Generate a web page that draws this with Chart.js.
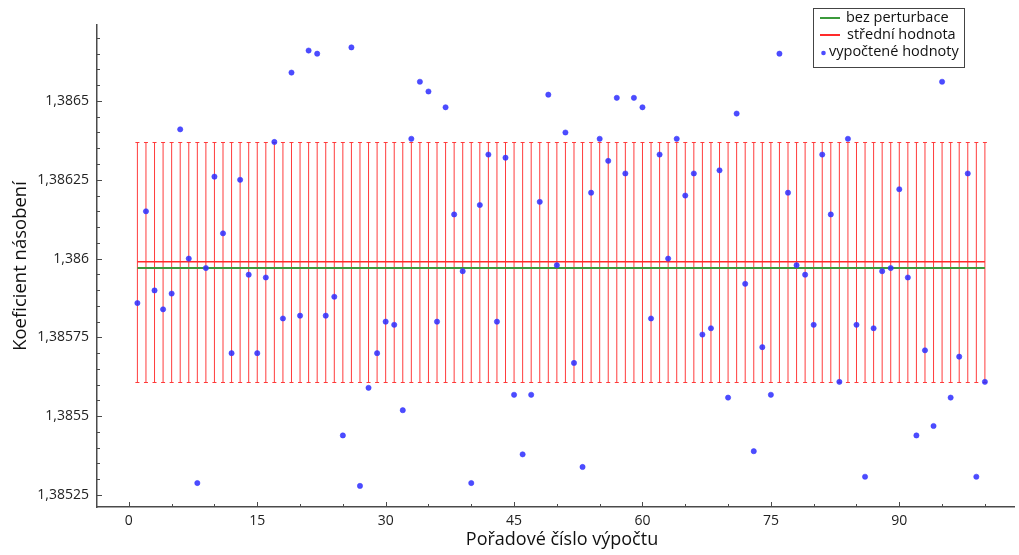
<!DOCTYPE html>
<html lang="cs">
<head>
<meta charset="UTF-8">
<title>Koeficient násobení</title>
<script src="https://cdn.jsdelivr.net/npm/chart.js"></script>
<style>
  html, body { margin: 0; padding: 0; background: #fff; }
  #wrap { width: 1019px; height: 555px; }
</style>
</head>
<body>
<div id="wrap"><canvas id="chart"></canvas></div>
<script>
// sequence number of each run
const runs = [
  1, 2, 3, 4, 5, 6, 7, 8, 9, 10, 11, 12, 13, 14, 15, 16, 17, 18, 19, 20,
  21, 22, 23, 24, 25, 26, 27, 28, 29, 30, 31, 32, 33, 34, 35, 36, 37, 38, 39, 40,
  41, 42, 43, 44, 45, 46, 47, 48, 49, 50, 51, 52, 53, 54, 55, 56, 57, 58, 59, 60,
  61, 62, 63, 64, 65, 66, 67, 68, 69, 70, 71, 72, 73, 74, 75, 76, 77, 78, 79, 80,
  81, 82, 83, 84, 85, 86, 87, 88, 89, 90, 91, 92, 93, 94, 95, 96, 97, 98, 99, 100
];
// computed multiplication factor per run
const computed = [
  1.385859, 1.386150, 1.385899, 1.385839, 1.385889, 1.386410, 1.386000, 1.385288, 1.385970, 1.386260,
  1.386080, 1.385700, 1.386250, 1.385949, 1.385700, 1.385940, 1.386370, 1.385810, 1.386590, 1.385819,
  1.386660, 1.386650, 1.385819, 1.385879, 1.385439, 1.386670, 1.385279, 1.385590, 1.385700, 1.385800,
  1.385790, 1.385519, 1.386380, 1.386561, 1.386530, 1.385800, 1.386480, 1.386140, 1.385960, 1.385288,
  1.386170, 1.386330, 1.385800, 1.386320, 1.385568, 1.385379, 1.385568, 1.386180, 1.386520, 1.385979,
  1.386400, 1.385669, 1.385339, 1.386209, 1.386380, 1.386310, 1.386510, 1.386270, 1.386510, 1.386480,
  1.385810, 1.386330, 1.386000, 1.386380, 1.386200, 1.386270, 1.385759, 1.385779, 1.386280, 1.385559,
  1.386460, 1.385920, 1.385389, 1.385719, 1.385568, 1.386650, 1.386209, 1.385979, 1.385949, 1.385790,
  1.386330, 1.386140, 1.385609, 1.386380, 1.385790, 1.385308, 1.385779, 1.385960, 1.385970, 1.386220,
  1.385940, 1.385439, 1.385709, 1.385469, 1.386561, 1.385559, 1.385689, 1.386270, 1.385308, 1.385609
];
const unperturbed = 1.38597;   // bez perturbace
const meanValue = 1.38599;     // střední hodnota
const spread = 0.000381;       // half height of the error bars

const xTicks = [0, 15, 30, 45, 60, 75, 90];
const xMinor = [5, 10, 20, 25, 35, 40, 50, 55, 65, 70, 80, 85, 95, 100];
const yTicks = [1.38525, 1.3855, 1.38575, 1.386, 1.38625, 1.3865];
const yMinorStep = 0.00005;

const labels = ['bez perturbace', 'střední hodnota', 'vypočtené hodnoty'];
const xTitle = 'Pořadové číslo výpočtu';
const yTitle = 'Koeficient násobení';

const GREEN = '#3b9a3b';
const RED = '#ff2a2a';
const BLUE = 'rgba(45, 45, 255, 0.85)';
const AXIS = '#4a4a4a';
const FONT = '"Open Sans", "Noto Sans", sans-serif';

function fmt(v) {
  return v.toFixed(5).replace(/0+$/, '').replace(/\.$/, '').replace('.', ',');
}

// red error bars around the mean, one for every run
const errorBars = {
  id: 'errorBars',
  beforeDatasetsDraw(chart) {
    const { ctx, scales: { x, y } } = chart;
    const top = Math.round(y.getPixelForValue(meanValue + spread)) + 0.5;
    const bot = Math.round(y.getPixelForValue(meanValue - spread)) + 0.5;
    ctx.save();
    ctx.strokeStyle = 'rgba(255, 50, 50, 0.95)';
    ctx.lineWidth = 1;
    runs.forEach(r => {
      const px = x.getPixelForValue(r);
      ctx.beginPath();
      ctx.moveTo(px, top);
      ctx.lineTo(px, bot);
      ctx.moveTo(px - 2, top);
      ctx.lineTo(px + 2, top);
      ctx.moveTo(px - 2, bot);
      ctx.lineTo(px + 2, bot);
      ctx.stroke();
    });
    ctx.restore();
  }
};

// tick marks pointing into the plot, plus the x axis title
const innerTicks = {
  id: 'innerTicks',
  afterDraw(chart) {
    const { ctx, chartArea: a, scales: { x, y } } = chart;
    ctx.save();
    ctx.strokeStyle = AXIS;
    ctx.lineWidth = 1;
    ctx.beginPath();
    xTicks.forEach(v => {
      const px = Math.round(x.getPixelForValue(v)) + 0.5;
      ctx.moveTo(px, a.bottom); ctx.lineTo(px, a.bottom - 5);
    });
    xMinor.forEach(v => {
      const px = Math.round(x.getPixelForValue(v)) + 0.5;
      ctx.moveTo(px, a.bottom); ctx.lineTo(px, a.bottom - 3);
    });
    for (let v = yTicks[0] - 0.00025; v <= y.max; v += yMinorStep) {
      if (v < y.min) continue;
      const major = yTicks.some(t => Math.abs(t - v) < 1e-8);
      const py = Math.round(y.getPixelForValue(v)) + 0.5;
      ctx.moveTo(a.left, py); ctx.lineTo(a.left + (major ? 5 : 3), py);
    }
    ctx.stroke();

    ctx.fillStyle = '#111';
    ctx.font = '18px ' + FONT;
    ctx.textAlign = 'center';
    ctx.textBaseline = 'middle';
    ctx.fillText(xTitle, 562, 540);
    ctx.restore();
  }
};

// boxed legend in the upper right corner
const boxLegend = {
  id: 'boxLegend',
  afterDraw(chart) {
    const { ctx } = chart;
    const bx = 813.5, by = 8.5, bw = 151, bh = 59;
    ctx.save();
    ctx.fillStyle = '#fff';
    ctx.fillRect(bx, by, bw, bh);
    ctx.strokeStyle = '#444';
    ctx.lineWidth = 1;
    ctx.strokeRect(bx, by, bw, bh);
    ctx.font = '14.5px ' + FONT;
    ctx.fillStyle = '#111';
    ctx.textBaseline = 'middle';

    ctx.lineWidth = 2;
    ctx.strokeStyle = GREEN;
    ctx.beginPath(); ctx.moveTo(820, 18); ctx.lineTo(840, 18); ctx.stroke();
    ctx.fillText(labels[0], 846, 18);

    ctx.strokeStyle = RED;
    ctx.beginPath(); ctx.moveTo(820, 35); ctx.lineTo(840, 35); ctx.stroke();
    ctx.fillText(labels[1], 847, 35);

    ctx.fillStyle = BLUE;
    ctx.beginPath(); ctx.arc(823.5, 53, 2.3, 0, Math.PI * 2); ctx.fill();
    ctx.fillStyle = '#111';
    ctx.fillText(labels[2], 829, 52);
    ctx.restore();
  }
};

new Chart(document.getElementById('chart'), {
  type: 'scatter',
  data: {
    datasets: [
      {
        label: labels[2],
        data: runs.map((r, i) => ({ x: r, y: computed[i] })),
        pointRadius: 2.6,
        pointBackgroundColor: BLUE,
        pointBorderColor: 'rgba(60, 60, 255, 0.6)',
        pointBorderWidth: 1,
        order: 0
      },
      {
        type: 'line',
        label: labels[1],
        data: [{ x: runs[0], y: meanValue }, { x: runs[runs.length - 1], y: meanValue }],
        borderColor: RED,
        borderWidth: 1.5,
        pointRadius: 0,
        order: 1
      },
      {
        type: 'line',
        label: labels[0],
        data: [{ x: runs[0], y: unperturbed }, { x: runs[runs.length - 1], y: unperturbed }],
        borderColor: GREEN,
        borderWidth: 2,
        pointRadius: 0,
        order: 2
      }
    ]
  },
  options: {
    responsive: true,
    maintainAspectRatio: false,
    animation: false,
    layout: { padding: { top: 25, right: 2, left: 0, bottom: 0 } },
    plugins: { legend: { display: false }, tooltip: { enabled: false } },
    scales: {
      x: {
        type: 'linear',
        min: -3.72,
        max: 103.4,
        afterBuildTicks: s => { s.ticks = xTicks.map(v => ({ value: v })); },
        afterFit: s => { s.height = 48; },
        grid: { display: false, drawTicks: false },
        border: { display: true, color: AXIS, width: 1.5 },
        ticks: { font: { family: FONT, size: 14 }, color: '#222', padding: 6, maxRotation: 0, autoSkip: false },
        title: { display: false }
      },
      y: {
        type: 'linear',
        min: 1.385212,
        max: 1.386741,
        afterBuildTicks: s => { s.ticks = yTicks.map(v => ({ value: v })); },
        afterFit: s => { s.width = 97; },
        grid: { display: false, drawTicks: false },
        border: { display: true, color: AXIS, width: 1.5 },
        ticks: { font: { family: FONT, size: 14 }, color: '#222', padding: 8, callback: v => fmt(v) },
        title: { display: true, text: yTitle, font: { family: FONT, size: 18.5 }, color: '#111', padding: { top: 10, bottom: 0 } }
      }
    }
  },
  plugins: [errorBars, innerTicks, boxLegend]
});
</script>
</body>
</html>
